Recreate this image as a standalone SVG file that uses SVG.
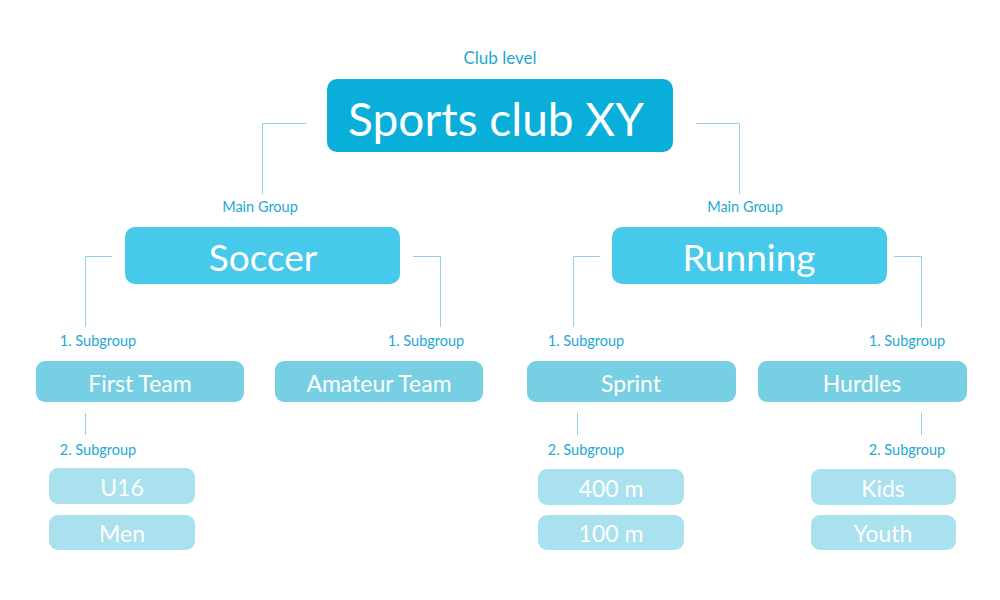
<svg xmlns="http://www.w3.org/2000/svg" width="1000" height="600" viewBox="0 0 1000 600">
<style>
text{font-family:Lato,"Open Sans","Liberation Sans",sans-serif;text-anchor:middle}
.lbl{fill:#1ea8d3;font-size:14.5px}
.con{fill:none;stroke:#8fd3e6;stroke-width:1}
.top{fill:#0aafd9}
.main{fill:#46c9ea}
.sub1{fill:#77cfe3}
.sub2{fill:#a9e1ef}
.t{fill:#ffffff}
</style>
<rect width="1000" height="600" fill="#ffffff"/>
<g id="connectors">
<path class="con" d="M306,123.5H262.5V194"/>
<path class="con" d="M696,123.5H739.5V194"/>
<path class="con" d="M112,256.5H85.5V327"/>
<path class="con" d="M413,256.5H440.5V327"/>
<path class="con" d="M600,256.5H573.5V327"/>
<path class="con" d="M894,256.5H921.5V327"/>
<path class="con" d="M85.5,413V435"/>
<path class="con" d="M577.5,413V435"/>
<path class="con" d="M921.5,413V435"/>
</g>
<g id="labels">
<text class="lbl" x="500" y="64" style="font-size:17px">Club level</text>
<text class="lbl" x="260" y="212">Main Group</text>
<text class="lbl" x="745" y="212">Main Group</text>
<text class="lbl" x="98" y="346">1. Subgroup</text>
<text class="lbl" x="426" y="346">1. Subgroup</text>
<text class="lbl" x="586" y="346">1. Subgroup</text>
<text class="lbl" x="907" y="346">1. Subgroup</text>
<text class="lbl" x="98" y="455">2. Subgroup</text>
<text class="lbl" x="586" y="455">2. Subgroup</text>
<text class="lbl" x="907" y="455">2. Subgroup</text>
</g>
<g id="club">
<rect class="top" x="327" y="79" width="346" height="73" rx="10"/>
<text class="t" x="496" y="136" style="font-size:46px">Sports club XY</text>
</g>
<g id="soccer">
<rect class="main" x="125" y="227" width="275" height="57" rx="10"/>
<text class="t" x="263" y="271" style="font-size:37px">Soccer</text>
</g>
<g id="running">
<rect class="main" x="612" y="227" width="275" height="57" rx="10"/>
<text class="t" x="749" y="271" style="font-size:37px">Running</text>
</g>
<g id="first-team">
<rect class="sub1" x="36" y="361" width="208" height="41" rx="9"/>
<text class="t" x="140" y="392" style="font-size:23px">First Team</text>
</g>
<g id="amateur-team">
<rect class="sub1" x="275" y="361" width="208" height="41" rx="9"/>
<text class="t" x="379" y="392" style="font-size:23px">Amateur Team</text>
</g>
<g id="sprint">
<rect class="sub1" x="527" y="361" width="209" height="41" rx="9"/>
<text class="t" x="631" y="392" style="font-size:23px">Sprint</text>
</g>
<g id="hurdles">
<rect class="sub1" x="758" y="361" width="209" height="41" rx="9"/>
<text class="t" x="862" y="392" style="font-size:23px">Hurdles</text>
</g>
<g id="u16">
<rect class="sub2" x="49" y="468" width="146" height="36" rx="9"/>
<text class="t" x="122" y="496" style="font-size:23px">U16</text>
</g>
<g id="men">
<rect class="sub2" x="49" y="515" width="146" height="35" rx="9"/>
<text class="t" x="122" y="542" style="font-size:23px">Men</text>
</g>
<g id="m400">
<rect class="sub2" x="538" y="469" width="146" height="36" rx="9"/>
<text class="t" x="611" y="497" style="font-size:23px">400 m</text>
</g>
<g id="m100">
<rect class="sub2" x="538" y="515" width="146" height="35" rx="9"/>
<text class="t" x="611" y="542" style="font-size:23px">100 m</text>
</g>
<g id="kids">
<rect class="sub2" x="811" y="469" width="145" height="36" rx="9"/>
<text class="t" x="883" y="497" style="font-size:23px">Kids</text>
</g>
<g id="youth">
<rect class="sub2" x="811" y="515" width="145" height="35" rx="9"/>
<text class="t" x="883" y="542" style="font-size:23px">Youth</text>
</g>
</svg>
